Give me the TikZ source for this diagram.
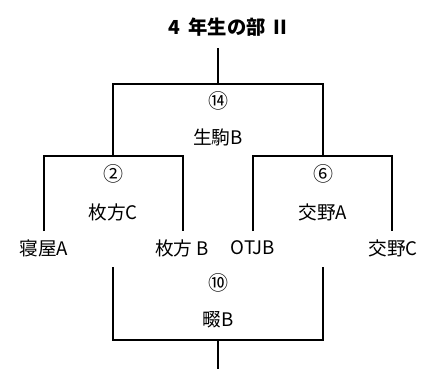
\documentclass[tikz,border=0pt]{standalone}
\usepackage{fontspec}
\setmainfont{Noto Sans CJK JP}
\usetikzlibrary{positioning}
\tikzstyle{team} = [inner sep=0pt, font=\fontsize{14}{16}\selectfont]
\tikzstyle{num} = [inner sep=0pt, font=\fontsize{15}{17}\selectfont]
\tikzstyle{titlebox} = [inner sep=0pt, font=\fontsize{14.5}{17}\selectfont\bfseries]
\tikzstyle{line} = [line width=1.1pt]

\begin{document}
\begin{tikzpicture}[x=0.75pt, y=-0.75pt]
\useasboundingbox (0,0) rectangle (424,369);

\node (title) [titlebox] at (228,27) {4\hspace{0.4em}年生の部\hspace{0.4em}II};

\node (neyaA) [team] at (44,248) {寝屋A};
\node (hirakataB) [team] at (182,248) {枚方 B};
\node (otjb) [team] at (253,248) {OTJB};
\node (katanoC) [team] at (393,248) {交野C};

\node (m14) [num] at (218,101) {⑭};
\node (w14) [team] at (218,137) {生駒B};
\node (m2) [num] at (113,174) {②};
\node (w2) [team] at (113,212) {枚方C};
\node (m6) [num] at (323,174) {⑥};
\node (w6) [team] at (323,212) {交野A};
\node (m10) [num] at (218,283) {⑩};
\node (w10) [team] at (218,320) {畷B};

\coordinate (top) at (218,48);
\coordinate (r14) at (218,84);
\coordinate (r2) at (113,156);
\coordinate (r6) at (323,156);
\coordinate (a1) at (44,231);
\coordinate (a2) at (183,231);
\coordinate (a3) at (253,231);
\coordinate (a4) at (392,231);
\coordinate (b1) at (113,267);
\coordinate (b2) at (323,267);
\coordinate (r10) at (218,340);
\coordinate (bot) at (218,369);

\draw [line] (top) -- (r14);
\draw [line] (r2) |- (r14) -| (r6);
\draw [line] (a1) |- (r2) -| (a2);
\draw [line] (a3) |- (r6) -| (a4);
\draw [line] (b1) |- (r10) -| (b2);
\draw [line] (r10) -- (bot);

\end{tikzpicture}
\end{document}
